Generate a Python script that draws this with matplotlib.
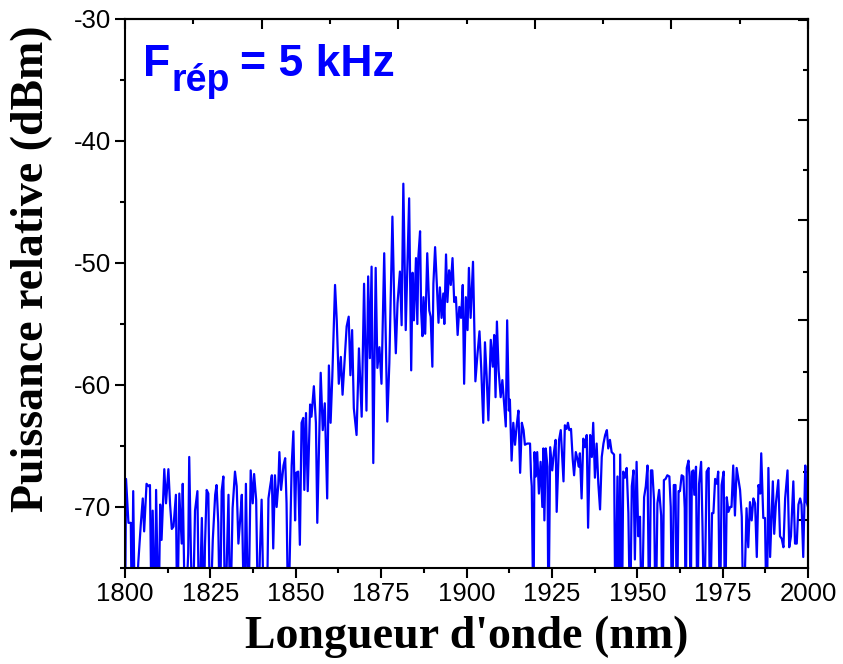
import matplotlib
matplotlib.use("Agg")
import matplotlib.pyplot as plt
from matplotlib.ticker import MultipleLocator, FixedLocator

plt.rcParams["axes.unicode_minus"] = False

# longueur d'onde (nm) et puissance relative (dBm)
# (-80 = point sous le bas de l'axe)
wl = [1800.0, 1800.3, 1801.0, 1801.7, 1802.0, 1802.4, 1802.9, 1803.9, 1804.6, 1805.2,
      1805.6, 1806.3, 1806.9, 1807.3, 1807.8, 1808.1, 1808.8, 1809.1, 1809.8, 1810.3,
      1810.7, 1811.5, 1812.0, 1812.7, 1813.2, 1813.7, 1814.2, 1814.9, 1815.3, 1815.9,
      1816.6, 1816.9, 1817.6, 1818.5, 1818.8, 1819.3, 1819.8, 1820.5, 1821.2, 1821.7,
      1822.5, 1823.1, 1823.4, 1823.9, 1824.4, 1824.9, 1825.7, 1826.4, 1826.8, 1827.3,
      1827.8, 1828.3, 1828.8, 1829.3, 1830.3, 1830.8, 1831.5, 1832.2, 1832.7, 1833.2,
      1833.7, 1834.2, 1834.9, 1835.4, 1836.1, 1836.8, 1837.4, 1837.8, 1838.4, 1839.0,
      1839.5, 1840.0, 1840.7, 1841.5, 1842.0, 1842.5, 1843.0, 1843.4, 1843.9, 1844.4,
      1844.9, 1845.2, 1845.7, 1846.4, 1846.9, 1847.3, 1847.8,
      1848.8, 1849.3, 1849.8, 1850.1, 1850.7, 1851.2, 1851.7, 1852.2, 1852.5, 1853.0,
      1853.5, 1854.2, 1854.6, 1855.3, 1855.9, 1856.3, 1857.3, 1857.9, 1858.5, 1859.2,
      1859.7, 1860.2, 1860.7, 1861.5, 1862.0, 1862.6, 1863.2, 1863.7, 1864.4, 1864.9,
      1865.5, 1866.0, 1866.5, 1867.0, 1867.8, 1868.5, 1869.3, 1870.0, 1870.7, 1871.2,
      1871.7, 1872.2, 1872.7, 1873.4, 1873.9, 1874.5, 1875.1, 1875.9, 1876.8, 1877.4,
      1878.3, 1878.9, 1879.3, 1879.8, 1880.5, 1881.0, 1881.5, 1882.2, 1883.2,
      1883.8, 1884.2, 1884.6, 1885.2, 1885.6, 1885.9, 1886.4, 1886.7, 1887.1, 1887.4,
      1887.9, 1888.5, 1889.1, 1889.5, 1890.0, 1890.3, 1890.8, 1891.3, 1891.8, 1892.2,
      1892.7, 1893.2, 1893.5, 1894.0, 1894.4, 1894.9, 1895.4, 1895.9, 1896.4, 1896.9,
      1897.4, 1897.9, 1898.4, 1898.9, 1899.3, 1899.8, 1900.3, 1900.7, 1901.2, 1901.9,
      1902.6, 1903.2, 1903.8, 1904.3, 1904.9, 1905.4, 1905.9, 1906.4, 1907.1, 1907.7,
      1908.1, 1908.5, 1908.9, 1909.4, 1910.0, 1910.5, 1911.1, 1911.5, 1911.9, 1912.4,
      1912.7, 1913.2, 1913.7, 1914.2, 1914.7, 1915.2, 1915.7, 1916.2, 1916.7, 1917.1,
      1917.8, 1918.6, 1918.9, 1919.1, 1919.6, 1919.9, 1920.3, 1920.7, 1921.2, 1921.7,
      1922.2, 1922.5, 1922.8, 1923.2, 1923.7, 1924.0, 1924.5, 1925.1, 1925.6, 1926.1,
      1926.4, 1927.1, 1927.6, 1928.4, 1928.8, 1929.3, 1929.7, 1930.1, 1930.6, 1931.1,
      1931.5, 1932.0, 1932.5, 1932.9, 1933.2, 1933.7, 1934.2, 1934.7, 1935.2, 1935.6,
      1936.2, 1936.7, 1937.1, 1937.6, 1938.1, 1938.6, 1939.1, 1939.6, 1940.1, 1940.6,
      1941.1, 1941.5, 1942.0, 1942.5, 1943.2, 1943.6, 1944.2, 1944.6, 1945.0, 1945.5,
      1945.9, 1946.4, 1946.9, 1947.4, 1947.9, 1948.4, 1948.9, 1949.3, 1949.8, 1950.3,
      1950.8, 1951.3, 1952.0, 1952.5, 1953.0, 1953.5, 1954.0, 1954.4, 1954.9, 1955.4,
      1955.9, 1956.4, 1957.0, 1957.4, 1957.8, 1958.3, 1958.8, 1959.4, 1959.8, 1960.2,
      1960.7, 1961.2, 1961.6, 1962.1, 1962.5, 1963.0, 1963.5, 1963.9, 1964.2, 1964.5,
      1965.0, 1965.3, 1965.6, 1966.0, 1966.4, 1966.7, 1967.2, 1967.6, 1968.1, 1968.7,
      1969.1, 1969.6, 1970.3, 1970.9, 1971.3, 1971.9, 1972.3, 1972.8, 1973.3, 1973.7,
      1974.2, 1974.7, 1975.3, 1975.7, 1976.2, 1976.7, 1977.2, 1977.6, 1978.1, 1978.6,
      1979.1, 1979.6, 1980.1, 1980.6, 1981.1, 1982.0, 1982.5, 1983.0, 1983.5, 1984.0,
      1984.5, 1985.0, 1985.5, 1986.0, 1986.3, 1986.9, 1987.4, 1987.9, 1988.4, 1988.9,
      1989.7, 1990.1, 1990.6, 1991.3, 1991.8, 1992.3, 1992.8, 1993.3, 1994.0, 1994.5,
      1995.0, 1995.7, 1996.2, 1996.7, 1997.2, 1997.7, 1998.1, 1998.6, 1999.2, 1999.6,
      2000.0]

pw = [-80, -67.7, -71.3, -71.3, -80, -68.7, -80, -74.5, -71.5, -69.3,
      -72.0, -68.1, -68.3, -68.2, -80, -70.3, -80, -68.6, -80, -69.8,
      -72.7, -66.9, -69.7, -66.9, -69.8, -71.8, -71.6, -69.0, -80, -68.9,
      -73.0, -68.1, -80, -73.8, -65.9, -73.8, -80, -70.3, -68.7, -80,
      -70.9, -80, -73.3, -68.6, -68.9, -80, -72.7, -69.0, -68.2, -71.3,
      -80, -68.7, -67.5, -80, -69.0, -80, -70.1, -67.1, -68.3, -73.0,
      -71.1, -69.0, -80, -68.1, -80, -67.0, -69.7, -67.3, -69.4, -80,
      -73.8, -69.4, -80, -80, -69.3, -68.3, -67.4, -73.4, -67.4, -70.0,
      -68.1, -65.5, -68.6, -66.6, -66.0, -69.7, -80,
      -66.6, -63.8, -71.1, -67.2, -67.1, -73.1, -63.1, -62.7, -68.6, -62.3,
      -68.7, -61.6, -62.6, -60.1, -63.1, -71.3, -59.0, -63.7, -61.5, -69.3,
      -58.4, -63.1, -59.3, -51.8, -54.7, -59.9, -57.7, -60.8, -57.5, -55.2,
      -54.4, -59.2, -55.5, -61.9, -64.1, -57.0, -62.6, -51.7, -62.1, -51.1,
      -57.8, -50.3, -66.4, -50.4, -58.6, -56.9, -59.9, -49.2, -63.0, -58.2,
      -46.2, -54.1, -57.4, -53.3, -50.7, -55.1, -43.5, -55.5, -44.7,
      -58.8, -50.8, -54.7, -49.6, -55.0, -49.5, -47.4, -53.9, -56.0, -52.8,
      -55.8, -49.2, -53.9, -54.4, -58.5, -51.7, -48.7, -51.7, -54.9, -52.0,
      -54.5, -52.5, -55.0, -49.3, -53.2, -50.6, -51.8, -49.6, -53.2, -52.8,
      -55.9, -53.6, -54.5, -51.8, -59.9, -52.8, -55.5, -50.4, -54.5, -49.9,
      -59.7, -57.5, -55.6, -58.6, -63.1, -56.5, -59.3, -62.9, -56.3, -58.5,
      -55.9, -61.0, -54.8, -58.8, -61.0, -59.6, -61.9, -63.4, -54.7, -62.1,
      -61.2, -66.2, -63.1, -64.9, -63.3, -62.1, -67.2, -63.1, -63.7, -64.9,
      -64.8, -64.8, -67.5, -68.3, -80, -65.5, -67.5, -65.5, -68.9, -66.3,
      -70.0, -65.2, -71.1, -65.2, -66.7, -80, -65.1, -67.0, -65.5, -64.5,
      -70.4, -64.5, -63.7, -67.9, -63.3, -63.6, -63.1, -63.7, -63.6, -66.1,
      -67.4, -65.5, -66.1, -66.7, -65.6, -69.3, -64.4, -65.1, -64.1, -71.7,
      -64.1, -65.9, -63.1, -67.6, -64.8, -68.1, -70.2, -65.9, -64.8, -64.1,
      -63.7, -65.2, -64.5, -65.5, -65.7, -80, -67.5, -80, -65.7, -80,
      -67.1, -67.6, -66.8, -70.5, -80, -68.3, -67.0, -74.3, -66.3, -72.4,
      -70.8, -80, -69.2, -68.3, -66.6, -80, -67.0, -67.0, -69.4, -80,
      -69.7, -68.6, -70.7, -80, -67.8, -67.7, -67.4, -67.5, -70.0, -80,
      -68.2, -68.2, -80, -68.7, -68.7, -67.4, -67.5, -70.1, -80, -66.8,
      -66.2, -67.5, -80, -67.1, -67.0, -69.0, -66.7, -80, -68.1, -66.3,
      -71.6, -80, -67.1, -66.8, -80, -70.5, -70.5, -67.7, -68.1, -67.1,
      -80, -68.2, -67.1, -80, -69.2, -70.4, -70.0, -70.0, -66.6, -70.7,
      -66.8, -67.7, -68.6, -70.8, -80, -70.1, -73.3, -69.6, -71.1, -69.3,
      -69.7, -74.1, -68.2, -68.9, -65.6, -70.9, -70.9, -80, -66.8, -74.1,
      -67.9, -72.2, -69.7, -67.8, -72.4, -72.6, -73.3, -69.3, -67.0, -73.3,
      -72.4, -67.9, -73.0, -73.0, -69.8, -69.3, -69.8, -74.1, -66.6, -69.6,
      -70.0]

x_ticks = [1800, 1825, 1850, 1875, 1900, 1925, 1950, 1975, 2000]
y_ticks = [-30, -40, -50, -60, -70]
top_major = [1800, 1840, 1880, 1920, 1960, 2000]
top_minor = [1820, 1860, 1900, 1940, 1980]
right_major = [-30.1, -38.3, -46.5, -54.7, -62.9, -71.1]
right_minor = [-34.2, -42.4, -50.7, -58.9, -67.1]

sans = "Liberation Sans"
serif = "Liberation Serif"

fig = plt.figure(figsize=(8.43, 6.64), dpi=100)
ax = fig.add_axes([0.1483, 0.1446, 0.8102, 0.8268])

ax.plot(wl, pw, color="#0000FF", linewidth=1.6)

ax.set_xlim(1800, 2000)
ax.set_ylim(-75, -30)
ax.set_xticks(x_ticks)
ax.set_yticks(y_ticks)
ax.xaxis.set_minor_locator(MultipleLocator(12.5))
ax.yaxis.set_minor_locator(MultipleLocator(5))
ax.tick_params(which="both", direction="out", width=1.5, labelsize=18.5, pad=3)
ax.tick_params(which="major", length=7)
ax.tick_params(which="minor", length=3.5)
for lab in ax.get_xticklabels() + ax.get_yticklabels():
    lab.set_fontfamily(sans)

for s in ax.spines.values():
    s.set_linewidth(1.5)

# axes du haut et de droite (graduations internes, sans étiquettes)
top = ax.secondary_xaxis("top")
top.xaxis.set_major_locator(FixedLocator(top_major))
top.xaxis.set_minor_locator(FixedLocator(top_minor))
top.tick_params(which="both", direction="in", width=1.5, labeltop=False)
top.tick_params(which="major", length=7)
top.tick_params(which="minor", length=3.5)
top.spines["top"].set_linewidth(1.5)

right = ax.secondary_yaxis("right")
right.yaxis.set_major_locator(FixedLocator(right_major))
right.yaxis.set_minor_locator(FixedLocator(right_minor))
right.tick_params(which="both", direction="in", width=1.5, labelright=False)
right.tick_params(which="major", length=7)
right.tick_params(which="minor", length=3.5)
right.spines["right"].set_linewidth(1.5)

ax.set_xlabel("Longueur d'onde (nm)", fontfamily=serif, fontweight="bold",
              fontsize=33, labelpad=7)
ax.set_ylabel("Puissance relative (dBm)", fontfamily=serif, fontweight="bold",
              fontsize=33)
ax.yaxis.set_label_coords(-0.105, 0.545)

t1 = ax.text(0.026, 0.896, "F", transform=ax.transAxes, color="#0000FF",
             fontfamily=sans, fontweight="bold", fontsize=32, va="baseline")
t2 = ax.annotate("rép", xy=(1, 0), xycoords=t1, xytext=(1, -4),
                 textcoords="offset points", color="#0000FF", fontfamily=sans,
                 fontweight="bold", fontsize=27, va="baseline")
ax.annotate("= 5 kHz", xy=(1, 0), xycoords=(t2, t1), xytext=(7, 0),
            textcoords="offset points", color="#0000FF", fontfamily=sans,
            fontweight="bold", fontsize=32, va="bottom")

fig.savefig("out.png", dpi=100)
